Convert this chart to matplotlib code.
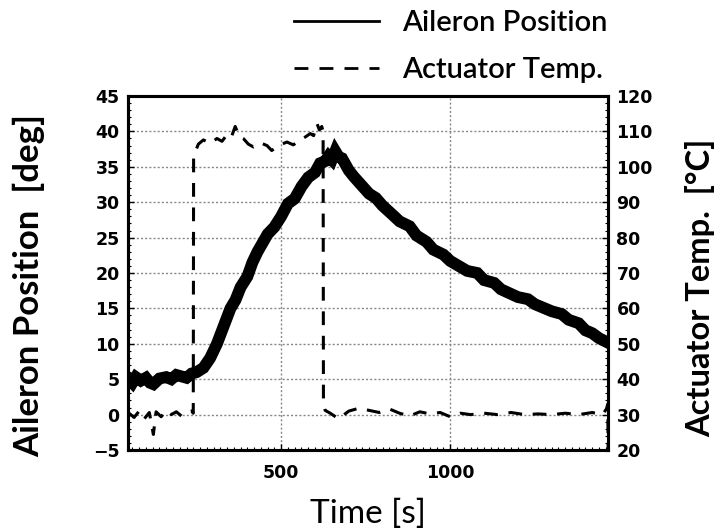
import matplotlib
matplotlib.use("Agg")
import matplotlib.pyplot as plt
from matplotlib.lines import Line2D
from matplotlib.ticker import MultipleLocator

# ---- data ----
# solid noisy trace (left axis, deg)
t_solid = [50, 60, 70, 85, 100, 112, 122, 140, 160, 175, 190, 205, 220, 235, 250,
           270, 290, 310, 330, 350, 365, 380, 400, 415, 430, 460, 480, 500, 520,
           540, 560, 580, 600, 615, 630, 640, 650, 660, 670, 680, 700, 715, 730,
           760, 780, 800, 830, 850, 880, 900, 930, 950, 980, 1000, 1050, 1080,
           1100, 1130, 1150, 1200, 1230, 1250, 1300, 1330, 1350, 1380, 1400,
           1420, 1440, 1465]
v_solid = [5.0, 4.5, 5.3, 4.8, 5.2, 4.5, 4.3, 5.1, 5.3, 5.0, 5.6, 5.4, 5.2, 5.8, 6.0,
           6.6, 8.0, 10.0, 12.5, 15.0, 16.2, 18.0, 19.5, 21.5, 23.0, 25.5, 26.5,
           28.0, 29.8, 30.5, 32.2, 33.5, 34.2, 35.5, 35.8, 36.5, 36.0, 37.2, 36.4,
           36.2, 34.5, 33.6, 32.8, 31.2, 30.6, 29.5, 28.2, 27.3, 26.6, 25.3, 24.4,
           23.3, 22.6, 21.7, 20.3, 20.0, 19.0, 18.6, 17.7, 16.6, 16.3, 15.6, 14.6,
           14.2, 13.4, 12.9, 11.9, 11.5, 10.8, 10.2]

# dashed step trace (left axis, deg)
t_dash = [50, 65, 80, 95, 110, 122, 130, 145, 160, 175, 190, 205, 220, 235, 240,
          241, 255, 270, 290, 310, 325, 339, 352, 364, 376, 388, 403, 418, 438, 458,
          472, 487, 502, 517, 536, 556, 571, 586, 596, 606, 613, 620, 624,
          625, 630, 645, 670, 700, 730, 760, 790, 820, 850, 880, 910, 940, 970,
          1000, 1030, 1060, 1100, 1140, 1180, 1220, 1260, 1300, 1340, 1380, 1420,
          1450, 1462, 1466, 1467]
v_dash = [0.2, -0.4, 0.5, -0.6, 0.3, -2.8, 0.4, -0.3, 0.6, 0.0, 0.4, -0.2, 0.3, 0.5, 0.2,
          36.5, 38.2, 38.8, 38.3, 39.0, 38.6, 39.5, 39.1, 40.7, 39.3, 39.0, 38.2, 37.8, 38.4, 38.0,
          37.3, 37.8, 38.2, 38.5, 38.1, 38.8, 39.2, 39.7, 39.4, 41.1, 40.2, 40.7, 40.0,
          1.5, 0.6, 0.2, -0.6, 0.5, 0.9, 0.6, 0.3, 0.8, 0.2, -0.2, 0.4, 0.1, 0.3,
          -0.3, 0.2, 0.0, 0.2, 0.0, 0.3, 0.0, 0.1, 0.0, 0.2, 0.0, 0.3,
          0.0, 0.8, 1.5, -5.0]

left_ticks = [-5, 0, 5, 10, 15, 20, 25, 30, 35, 40, 45]
right_ticks = [20, 30, 40, 50, 60, 70, 80, 90, 100, 110, 120]
x_ticks = [500, 1000]

legend_labels = ["Aileron Position", "Actuator Temp."]

# ---- figure ----
fig = plt.figure(figsize=(7.22, 5.31), dpi=100)
ax = fig.add_axes([0.1773, 0.1525, 0.665, 0.6667])
ax2 = ax.twinx()

tick_font = dict(family=["Liberation Sans Narrow", "DejaVu Sans"], weight="bold", size=12.5)
label_font = ["Lato", "DejaVu Sans"]

ax.plot(t_solid, v_solid, color="black", lw=8.5, solid_joinstyle="miter", zorder=3)
ax.plot(t_dash, v_dash, color="black", lw=2.2, linestyle=(0, (4.5, 3.5)), zorder=4)

ax.set_xlim(47, 1467)
ax.set_ylim(-5, 45)
ax2.set_ylim(20, 120)

ax.set_xticks(x_ticks)
ax.set_yticks(left_ticks)
ax2.set_yticks(right_ticks)
ax.set_yticklabels(["\u22125" if v == -5 else str(v) for v in left_ticks], **tick_font)
ax2.set_yticklabels([str(v) for v in right_ticks], **tick_font)
ax.set_xticklabels([str(v) for v in x_ticks], **tick_font)

ax.yaxis.set_minor_locator(MultipleLocator(1))
ax2.yaxis.set_minor_locator(MultipleLocator(2))
ax.xaxis.set_minor_locator(MultipleLocator(20))
for a in (ax, ax2):
    a.tick_params(which="major", direction="in", length=4, width=1, pad=6)
    a.tick_params(which="minor", direction="in", length=2.5, width=0.8)
ax.tick_params(axis="x", pad=10)

ax.grid(True, which="major", color="#888888", linestyle=(0, (1.5, 1.5)), lw=1.0)
for a in (ax, ax2):
    for s in a.spines.values():
        s.set_linewidth(2.2)

ax.set_ylabel("Aileron Position  [deg]", family=label_font, weight="bold", size=25)
ax2.set_ylabel("Actuator Temp.  [\u00b0C]", family=label_font, weight="bold", size=23.5)
ax.yaxis.set_label_coords(-0.173, 0.466)
ax2.yaxis.set_label_coords(1.16, 0.458)
ax.set_xlabel("Time [s]", family=label_font, size=24, labelpad=12)

handles = [Line2D([], [], color="black", lw=2),
           Line2D([], [], color="black", lw=2, linestyle=(0, (5, 4)))]
fig.legend(handles, legend_labels, loc="upper left", bbox_to_anchor=(0.371, 1.03),
           frameon=False, handlelength=2.9, handletextpad=0.8, labelspacing=0.72,
           prop=dict(family=label_font, size=21, weight="semibold"))

fig.savefig("out.png", dpi=100)
